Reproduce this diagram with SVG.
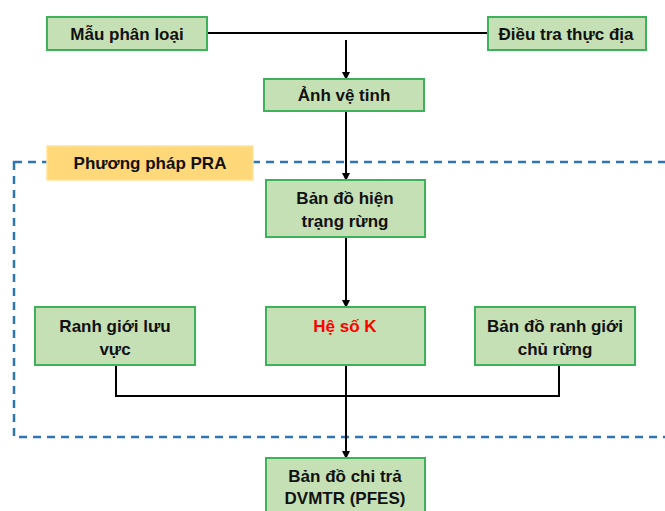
<svg xmlns="http://www.w3.org/2000/svg" width="665" height="511" viewBox="0 0 665 511">
<style>
.box{fill:#C5E0B4;stroke:#3DB25A;stroke-width:2}
.pra{fill:#FFD87A;stroke:#FFE39A;stroke-width:1.5}
.t{font-family:"Liberation Sans",Arial,sans-serif;font-weight:bold;font-size:17px;fill:#111;text-anchor:middle}
.ln{fill:none;stroke:#000;stroke-width:2}
</style>
<defs>
<marker id="ah" markerWidth="8" markerHeight="8" refX="7" refY="4" orient="auto" markerUnits="userSpaceOnUse">
<path d="M0,0 L8,4 L0,8 Z" fill="#000"/>
</marker>
</defs>
<rect x="14" y="162" width="660" height="275" fill="none" stroke="#2E75B6" stroke-width="2.5" stroke-dasharray="8,6"/>
<g id="connectors">
<line class="ln" x1="207" y1="33" x2="488" y2="33"/>
<line class="ln" x1="346" y1="40" x2="346" y2="79" marker-end="url(#ah)"/>
<line class="ln" x1="346" y1="111" x2="346" y2="180" marker-end="url(#ah)"/>
<line class="ln" x1="346" y1="236" x2="346" y2="307" marker-end="url(#ah)"/>
<path class="ln" d="M116,365 V396 H559 V365"/>
<line class="ln" x1="346" y1="365" x2="346" y2="458" marker-end="url(#ah)"/>
</g>
<g id="n1"><rect class="box" x="47" y="17" width="160" height="33"/><text class="t" x="127" y="40">Mẫu phân loại</text></g>
<g id="n2"><rect class="box" x="488" y="17" width="158" height="33"/><text class="t" x="566" y="40">Điều tra thực địa</text></g>
<g id="n3"><rect class="box" x="264" y="79" width="160" height="32"/><text class="t" x="344" y="101">Ảnh vệ tinh</text></g>
<g id="pra"><rect class="pra" x="47" y="146" width="206" height="34"/><text class="t" x="150" y="169">Phương pháp PRA</text></g>
<g id="n4"><rect class="box" x="266" y="180" width="159" height="57"/><text class="t" x="345" y="204">Bản đồ hiện</text><text class="t" x="345" y="227">trạng rừng</text></g>
<g id="n5"><rect class="box" x="35" y="307" width="160" height="58"/><text class="t" x="115" y="332">Ranh giới lưu</text><text class="t" x="115" y="355">vực</text></g>
<g id="n6"><rect class="box" x="266" y="307" width="159" height="58"/><text class="t" x="345" y="332" style="fill:#FF0000">Hệ số K</text></g>
<g id="n7"><rect class="box" x="475" y="307" width="160" height="58"/><text class="t" x="555" y="332">Bản đồ ranh giới</text><text class="t" x="555" y="355">chủ rừng</text></g>
<g id="n8"><rect class="box" x="266" y="458" width="159" height="60"/><text class="t" x="345" y="482">Bản đồ chi trả</text><text class="t" x="345" y="504">DVMTR (PFES)</text></g>
</svg>
